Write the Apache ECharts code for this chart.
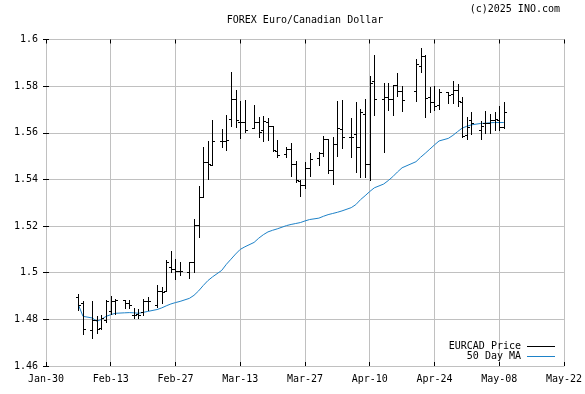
<!DOCTYPE html>
<html><head><meta charset="utf-8">
<script src="https://cdn.jsdelivr.net/npm/echarts@6/dist/echarts.min.js"></script>
<style>html,body{margin:0;padding:0;background:#fff}#c{width:585px;height:394px}</style>
</head><body><div id="c"></div>
<script>
const startDate = '2025-01-30';
const xTickLabels = ['Jan-30','Feb-13','Feb-27','Mar-13','Mar-27','Apr-10','Apr-24','May-08','May-22'];
const dates = [
'2025-02-06','2025-02-07','2025-02-09','2025-02-10','2025-02-11','2025-02-12','2025-02-13','2025-02-14',
'2025-02-16','2025-02-17','2025-02-18','2025-02-19','2025-02-20','2025-02-21',
'2025-02-23','2025-02-24','2025-02-25','2025-02-26','2025-02-27','2025-02-28',
'2025-03-02','2025-03-03','2025-03-04','2025-03-05','2025-03-06','2025-03-07',
'2025-03-09','2025-03-10','2025-03-11','2025-03-12','2025-03-13','2025-03-14',
'2025-03-16','2025-03-17','2025-03-18','2025-03-19','2025-03-20','2025-03-21',
'2025-03-23','2025-03-24','2025-03-25','2025-03-26','2025-03-27','2025-03-28',
'2025-03-30','2025-03-31','2025-04-01','2025-04-02','2025-04-03','2025-04-04',
'2025-04-06','2025-04-07','2025-04-08','2025-04-09','2025-04-10','2025-04-11',
'2025-04-13','2025-04-14','2025-04-15','2025-04-16','2025-04-17',
'2025-04-20','2025-04-21','2025-04-22','2025-04-23','2025-04-24','2025-04-25',
'2025-04-27','2025-04-28','2025-04-29','2025-04-30','2025-05-01','2025-05-02',
'2025-05-04','2025-05-05','2025-05-06','2025-05-07','2025-05-08','2025-05-09'];
const open = [
1.4895,1.4870,1.4756,1.4799,1.4763,1.4799,1.4835,1.4880,
1.4885,1.4871,1.4820,1.4825,1.4830,1.4877,
1.4860,1.4920,1.4923,1.5025,1.5016,1.5006,
1.5003,1.5044,1.5203,1.5323,1.5473,1.5463,
1.5565,1.5565,1.5658,1.5744,1.5648,1.5645,
1.5620,1.5645,1.5610,1.5648,1.5630,1.5524,
1.5508,1.5531,1.5467,1.5395,1.5374,1.5449,
1.5491,1.5513,1.5573,1.5441,1.5553,1.5616,
1.5581,1.5594,1.5537,1.5680,1.5466,1.5822,
1.5744,1.5752,1.5744,1.5807,1.5781,
1.5780,1.5887,1.5929,1.5752,1.5730,1.5720,
1.5773,1.5767,1.5784,1.5734,1.5591,1.5656,
1.5610,1.5641,1.5641,1.5653,1.5656,1.5624];
const high = [
1.4910,1.4880,1.4880,1.4816,1.4820,1.4885,1.4902,1.4888,
1.4885,1.4885,1.4849,1.4846,1.4888,1.4895,
1.4946,1.4939,1.5054,1.5094,1.5060,1.5044,
1.5047,1.5230,1.5373,1.5538,1.5565,1.5655,
1.5617,1.5677,1.5860,1.5784,1.5738,1.5741,
1.5717,1.5667,1.5672,1.5663,1.5630,1.5567,
1.5537,1.5556,1.5480,1.5398,1.5474,1.5513,
1.5517,1.5588,1.5573,1.5584,1.5737,1.5741,
1.5663,1.5734,1.5701,1.5744,1.5845,1.5934,
1.5812,1.5812,1.5807,1.5855,1.5801,
1.5915,1.5962,1.5934,1.5798,1.5801,1.5787,
1.5777,1.5822,1.5809,1.5755,1.5667,1.5691,
1.5649,1.5694,1.5681,1.5687,1.5715,1.5730];
const low = [
1.4839,1.4739,1.4719,1.4742,1.4757,1.4788,1.4825,1.4825,
1.4849,1.4849,1.4806,1.4806,1.4817,1.4838,
1.4855,1.4870,1.4923,1.5003,1.4973,1.4992,
1.4978,1.5003,1.5153,1.5323,1.5401,1.5460,
1.5538,1.5527,1.5627,1.5624,1.5577,1.5605,
1.5620,1.5584,1.5563,1.5570,1.5524,1.5498,
1.5498,1.5416,1.5391,1.5327,1.5363,1.5413,
1.5460,1.5501,1.5427,1.5381,1.5501,1.5534,
1.5498,1.5430,1.5410,1.5410,1.5398,1.5677,
1.5517,1.5698,1.5677,1.5758,1.5695,
1.5738,1.5860,1.5667,1.5691,1.5698,1.5701,
1.5727,1.5727,1.5713,1.5584,1.5574,1.5594,
1.5574,1.5598,1.5598,1.5613,1.5613,1.5620];
const close = [
1.4862,1.4759,1.4796,1.4759,1.4806,1.4880,1.4880,1.4885,
1.4871,1.4860,1.4817,1.4820,1.4877,1.4877,
1.4920,1.4918,1.5044,1.5016,1.5006,1.5006,
1.5044,1.5203,1.5323,1.5473,1.5466,1.5565,
1.5565,1.5570,1.5744,1.5655,1.5648,1.5610,
1.5645,1.5605,1.5652,1.5630,1.5527,1.5505,
1.5531,1.5467,1.5398,1.5374,1.5449,1.5488,
1.5513,1.5573,1.5441,1.5553,1.5622,1.5584,
1.5584,1.5537,1.5688,1.5466,1.5815,1.5744,
1.5752,1.5744,1.5807,1.5781,1.5741,
1.5895,1.5929,1.5748,1.5734,1.5713,1.5777,
1.5763,1.5784,1.5737,1.5588,1.5624,1.5641,
1.5631,1.5641,1.5656,1.5660,1.5624,1.5687];
const ma50 = [
1.4863,1.4813,1.4806,1.4792,1.4800,1.4813,1.4820,1.4826,
1.4828,1.4829,1.4828,1.4826,1.4830,1.4834,
1.4842,1.4849,1.4858,1.4866,1.4872,1.4877,
1.4890,1.4903,1.4922,1.4945,1.4966,1.4982,
1.5010,1.5036,1.5058,1.5080,1.5100,1.5111,
1.5130,1.5148,1.5163,1.5175,1.5182,1.5188,
1.5202,1.5207,1.5211,1.5215,1.5222,1.5228,
1.5234,1.5242,1.5249,1.5254,1.5259,1.5265,
1.5279,1.5292,1.5313,1.5330,1.5348,1.5364,
1.5380,1.5395,1.5412,1.5432,1.5450,
1.5476,1.5495,1.5512,1.5530,1.5548,1.5565,
1.5576,1.5589,1.5605,1.5620,1.5628,1.5634,
1.5640,1.5641,1.5643,1.5644,1.5644,1.5644];

const FONT = 'DejaVu Sans Mono';
const DAY = 86400000;
const t0 = Date.parse(startDate + 'T00:00:00Z');
const dayOf = d => Math.round((Date.parse(d + 'T00:00:00Z') - t0) / DAY);
const ohlcData = dates.map((d, i) => [dayOf(d), open[i], close[i], low[i], high[i]]);
const maData = dates.map((d, i) => [dayOf(d), ma50[i]]);

const chart = echarts.init(document.getElementById('c'), null, {renderer: 'canvas'});
const gridCol = '#c0c0c0';
const xBase = {
  type: 'value', min: 0, max: 112, interval: 14,
  axisLine: {show: true, lineStyle: {color: gridCol, width: 1}},
  axisTick: {show: true, inside: true, length: 4, lineStyle: {color: '#000'}},
};
const yBase = {
  type: 'value', min: 1.46, max: 1.6, interval: 0.02, scale: true,
  axisLine: {show: true, lineStyle: {color: gridCol, width: 1}},
  axisTick: {show: true, inside: true, length: 3, lineStyle: {color: '#000'}},
};
chart.setOption({
  animation: false,
  backgroundColor: '#fff',
  grid: {left: 46, right: 20, top: 39.5, bottom: 28, containLabel: false},
  xAxis: [
    Object.assign({}, xBase, {
      position: 'bottom',
      axisLabel: {show: true, margin: 8, color: '#000', fontFamily: FONT, fontSize: 10,
        showMinLabel: true, showMaxLabel: true, hideOverlap: false,
        formatter: (v) => xTickLabels[Math.round(v / 14)] || ''},
      splitLine: {show: true, lineStyle: {color: gridCol, width: 1}}
    }),
    Object.assign({}, xBase, {position: 'top', axisLabel: {show: false}, splitLine: {show: false}})
  ],
  yAxis: [
    Object.assign({}, yBase, {
      position: 'left',
      axisLabel: {show: true, margin: 8, color: '#000', fontFamily: FONT, fontSize: 10,
        showMinLabel: true, showMaxLabel: true, hideOverlap: false,
        formatter: (v) => String(parseFloat(v.toFixed(2)))},
      splitLine: {show: true, lineStyle: {color: gridCol, width: 1}}
    }),
    Object.assign({}, yBase, {position: 'right', axisLabel: {show: false}, splitLine: {show: false}})
  ],
  series: [
    {
      name: 'EURCAD Price', type: 'custom', xAxisIndex: 0, yAxisIndex: 0,
      encode: {x: 0, y: [1, 2, 3, 4]},
      data: ohlcData, z: 3,
      renderItem: function (params, api) {
        const x = api.value(0);
        const pO = api.coord([x, api.value(1)]);
        const pC = api.coord([x, api.value(2)]);
        const pL = api.coord([x, api.value(3)]);
        const pH = api.coord([x, api.value(4)]);
        const cx = Math.round(pH[0]) + 0.5;
        const yo = Math.round(pO[1]) + 0.5, yc = Math.round(pC[1]) + 0.5;
        const st = {stroke: '#000', lineWidth: 1};
        return {type: 'group', children: [
          {type: 'line', shape: {x1: cx, y1: Math.round(pH[1]), x2: cx, y2: Math.round(pL[1]) + 1}, style: st},
          {type: 'line', shape: {x1: cx - 2.5, y1: yo, x2: cx, y2: yo}, style: st},
          {type: 'line', shape: {x1: cx, y1: yc, x2: cx + 2.5, y2: yc}, style: st}
        ]};
      }
    },
    {
      name: '50 Day MA', type: 'line', xAxisIndex: 0, yAxisIndex: 0,
      data: maData, symbol: 'none', showSymbol: false, z: 2,
      lineStyle: {color: '#1e82c8', width: 1}, itemStyle: {color: '#1e82c8'}
    }
  ],
  graphic: [
    {type: 'text', x: 305, y: 20, style: {text: 'FOREX Euro/Canadian Dollar', font: '10px "' + FONT + '"', fill: '#000', textAlign: 'center', textVerticalAlign: 'middle'}},
    {type: 'text', x: 560, y: 9, style: {text: '(c)2025 INO.com', font: '10px "' + FONT + '"', fill: '#000', textAlign: 'right', textVerticalAlign: 'middle'}},
    {type: 'text', x: 521, y: 346, style: {text: 'EURCAD Price', font: '10px "' + FONT + '"', fill: '#000', textAlign: 'right', textVerticalAlign: 'middle'}, z: 10},
    {type: 'line', shape: {x1: 527, y1: 346.5, x2: 555, y2: 346.5}, style: {stroke: '#000', lineWidth: 1}, z: 10},
    {type: 'text', x: 521, y: 356, style: {text: '50 Day MA', font: '10px "' + FONT + '"', fill: '#000', textAlign: 'right', textVerticalAlign: 'middle'}, z: 10},
    {type: 'line', shape: {x1: 527, y1: 356.5, x2: 555, y2: 356.5}, style: {stroke: '#1e82c8', lineWidth: 1}, z: 10}
  ]
});
</script></body></html>
